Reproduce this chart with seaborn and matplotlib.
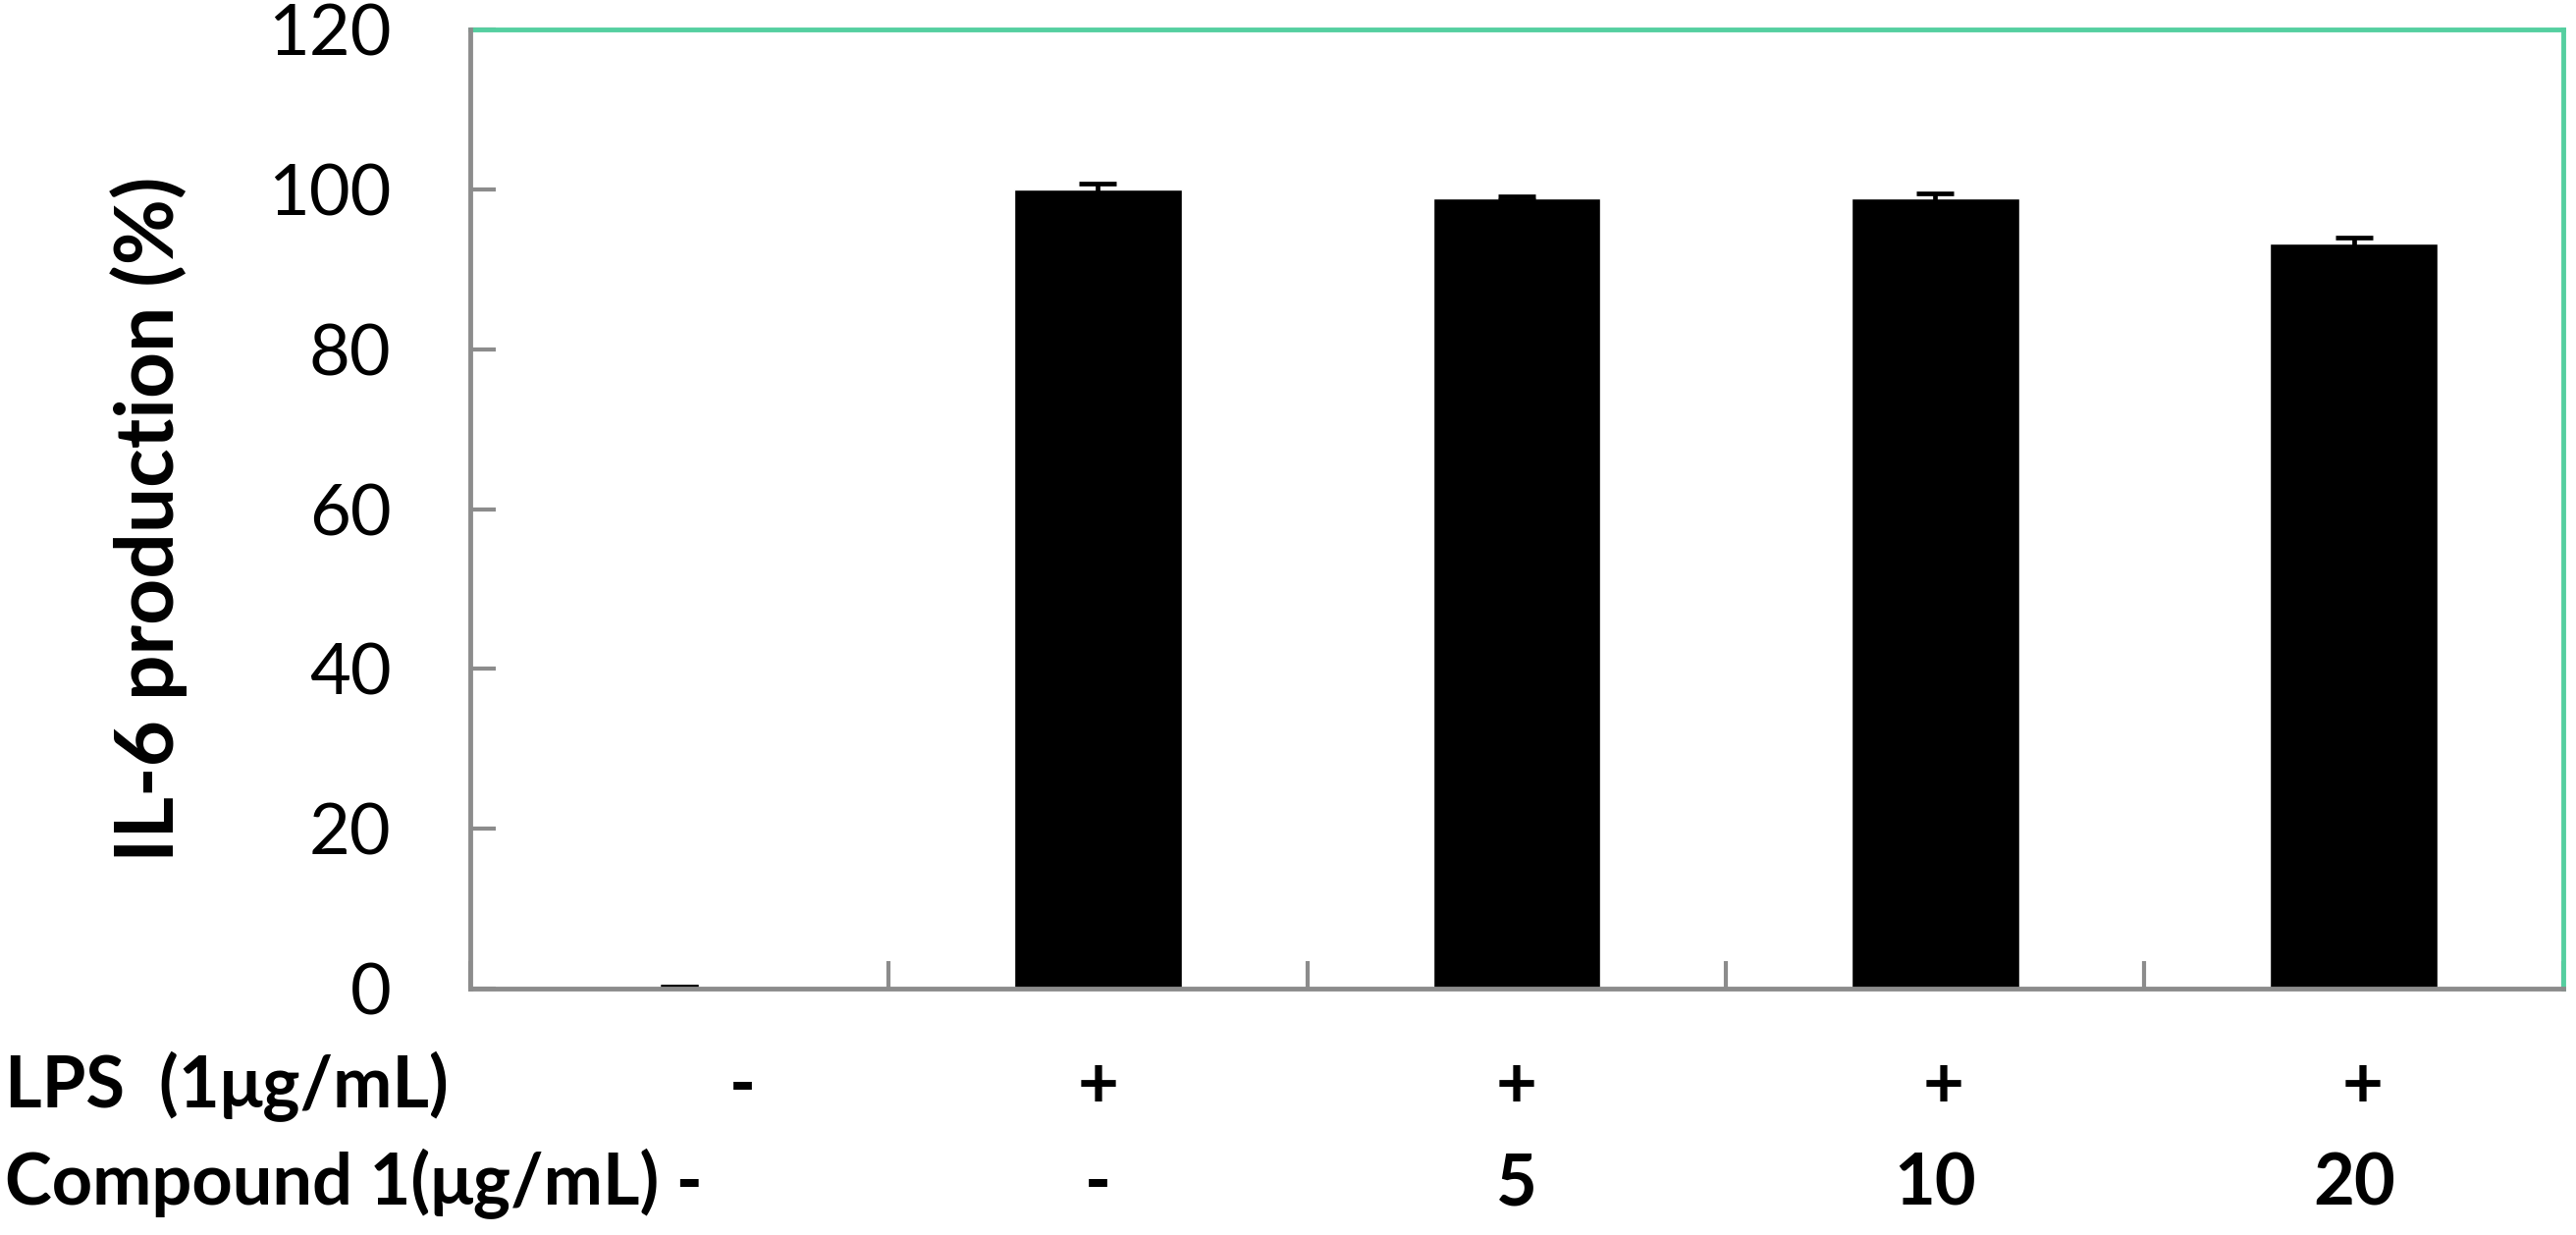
import matplotlib
matplotlib.use('Agg')
import matplotlib.pyplot as plt
import matplotlib.transforms as mtransforms
import numpy as np
import pandas as pd
import seaborn as sns

# data
groups = ['ctrl', 'LPS', 'C5', 'C10', 'C20']
il6 = [0.3, 100.0, 98.9, 98.9, 93.3]
il6_err = [0.0, 0.7, 0.2, 0.6, 0.7]
lps_row = ['-', '+', '+', '+', '+']
compound_row = ['-', '5', '10', '20']
y_ticks = [0, 20, 40, 60, 80, 100, 120]

sns.set_style('white', {'text.color': 'black', 'axes.labelcolor': 'black',
                        'xtick.color': 'black', 'ytick.color': 'black'})
plt.rcParams['font.family'] = ['Lato', 'DejaVu Sans']

df = pd.DataFrame({'group': groups, 'il6': il6})

fig = plt.figure(figsize=(26.24, 12.58), dpi=100)
ax = fig.add_axes([0.1825, 0.1995, 0.8125, 0.7765])

sns.barplot(data=df, x='group', y='il6', color='black', width=0.4,
            saturation=1, errorbar=None, ax=ax)
ax.errorbar(x=np.arange(len(groups)), y=il6, yerr=il6_err, fmt='none',
            ecolor='black', elinewidth=3.4, capsize=14, capthick=3.4)

ax.set_ylim(0, 120)
ax.set_xlim(-0.5, len(groups) - 0.5)
ax.set_yticks(y_ticks)
ax.set_xticks(np.arange(len(groups) + 1) - 0.5)
ax.set_xticklabels([])
ax.tick_params(axis='y', direction='in', length=19, width=3, color='#8c8c8c',
               labelcolor='black', labelsize=52, pad=58, left=True)
ax.tick_params(axis='x', direction='in', length=20, width=3, color='#8c8c8c',
               bottom=True)

ax.set_xlabel('')
ax.set_ylabel('IL-6 production (%)', fontsize=59, fontweight='bold')
ax.yaxis.set_label_coords(-0.135, 0.49)

for side in ['left', 'bottom']:
    ax.spines[side].set_color('#8c8c8c')
    ax.spines[side].set_linewidth(3.5)
for side in ['top', 'right']:
    ax.spines[side].set_visible(True)
    ax.spines[side].set_color('#55cfa0')
    ax.spines[side].set_linewidth(3.5)
ax.spines['left'].set_zorder(3)

# treatment rows under the axis
row1_y, row2_y = 0.1033, 0.0246
fs = 52
trans = mtransforms.blended_transform_factory(ax.transData, fig.transFigure)
fig.text(0.002, row1_y, 'LPS  (1μg/mL)', fontsize=fs, fontweight='bold',
         ha='left', va='baseline')
fig.text(0.002, row2_y, 'Compound 1(μg/mL) -', fontsize=fs, fontweight='bold',
         ha='left', va='baseline')
lps_x = [0.15, 1.0, 2.0, 3.02, 4.02]
for xi, s in zip(lps_x, lps_row):
    ax.text(xi, row1_y, s, transform=trans, fontsize=fs, fontweight='bold',
            ha='center', va='baseline')
for xi, s in zip(np.arange(1, len(groups)), compound_row):
    ax.text(xi, row2_y, s, transform=trans, fontsize=fs, fontweight='bold',
            ha='center', va='baseline')

fig.savefig('out.png', dpi=100)
